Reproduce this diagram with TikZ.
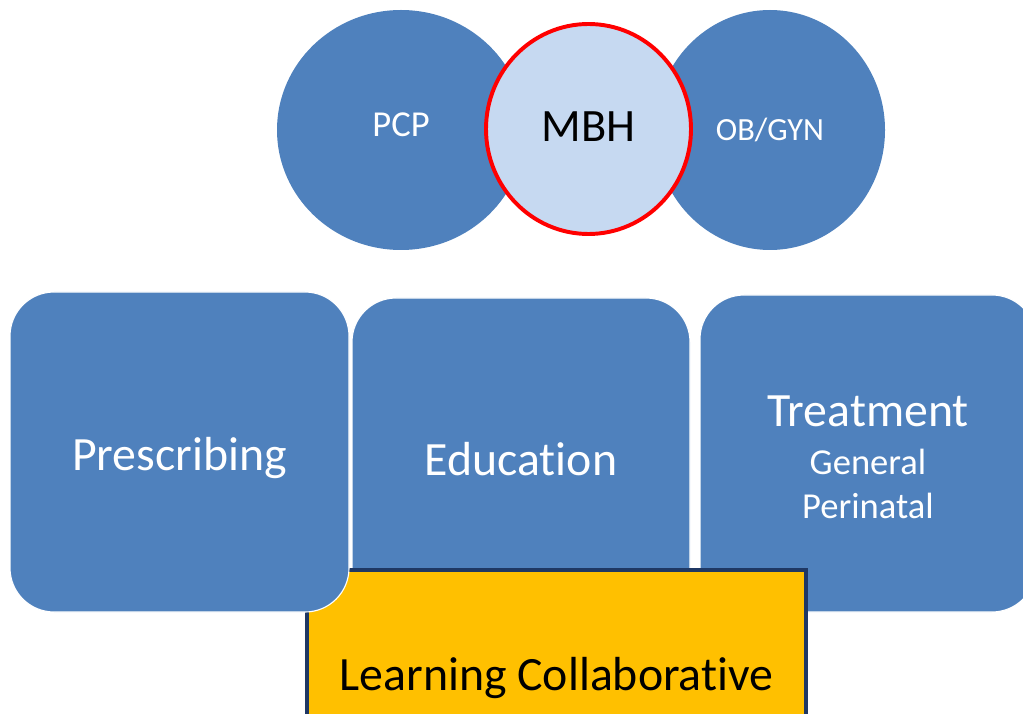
\documentclass[tikz,border=0pt]{standalone}
\usepackage{fontspec}
\setmainfont[Ligatures=NoCommon]{Carlito}
\usetikzlibrary{shapes.geometric}

\definecolor{boxblue}{HTML}{4F81BD}
\definecolor{paleblue}{HTML}{C6D9F1}
\definecolor{gold}{HTML}{FFC000}
\definecolor{navy}{HTML}{1F3864}

% move a label up or down without changing its box
\newcommand{\nudge}[2]{\raisebox{#1}[\height][\depth]{#2}}

\begin{document}
\begin{tikzpicture}[
  team/.style={ellipse, fill=boxblue, text=white, inner sep=0pt,
    font=\fontsize{24}{28}\selectfont},
  area/.style={rectangle, rounded corners=1.1cm, fill=boxblue, draw=white,
    line width=0.8pt, text=white, align=center, inner sep=0pt,
    font=\fontsize{34}{40}\selectfont}
]

\useasboundingbox (0,0) rectangle (25.575,-17.85);
\clip (0,0) rectangle (25.575,-17.85);

\node[team, minimum width=6.2cm, minimum height=6cm,
  font=\fontsize{26}{30}\selectfont] (pcp) at (10.025,-3.25) {\nudge{3.5pt}{PCP}};
\node[team, minimum width=5.75cm, minimum height=6cm,
  font=\fontsize{23}{28}\selectfont] (obgyn) at (19.25,-3.25) {OB/GYN};
\node[team, fill=paleblue, draw=red, line width=2.8pt, text=black,
  minimum width=5.125cm, minimum height=5.25cm,
  font=\fontsize{33}{38}\selectfont] (mbh) at (14.7125,-3.225) {\nudge{2pt}{MBH}};

\node[area, minimum width=8.45cm, minimum height=8.05cm] (education) at (13.025,-11.475) {Education};
\node[area, minimum width=8.4cm, minimum height=7.925cm,
  font=\fontsize{26}{31}\selectfont] (treatment) at (21.7,-11.3375)
  {\raisebox{0pt}[\dimexpr\height+5.6pt\relax][\depth]{\fontsize{34}{40}\selectfont Treatment}\\[3pt]General\\Perinatal};

\node[rectangle, fill=gold, draw=navy, line width=2.2pt,
  minimum width=12.475cm, minimum height=5.2cm,
  font=\fontsize{34}{40}\selectfont] (collab) at (13.9125,-16.85) {\nudge{-3pt}{Learning Collaborative}};

\node[area, minimum width=8.475cm, minimum height=8cm] (prescribing) at (4.4875,-11.3) {\nudge{-4.3pt}{Prescribing}};

\end{tikzpicture}
\end{document}
